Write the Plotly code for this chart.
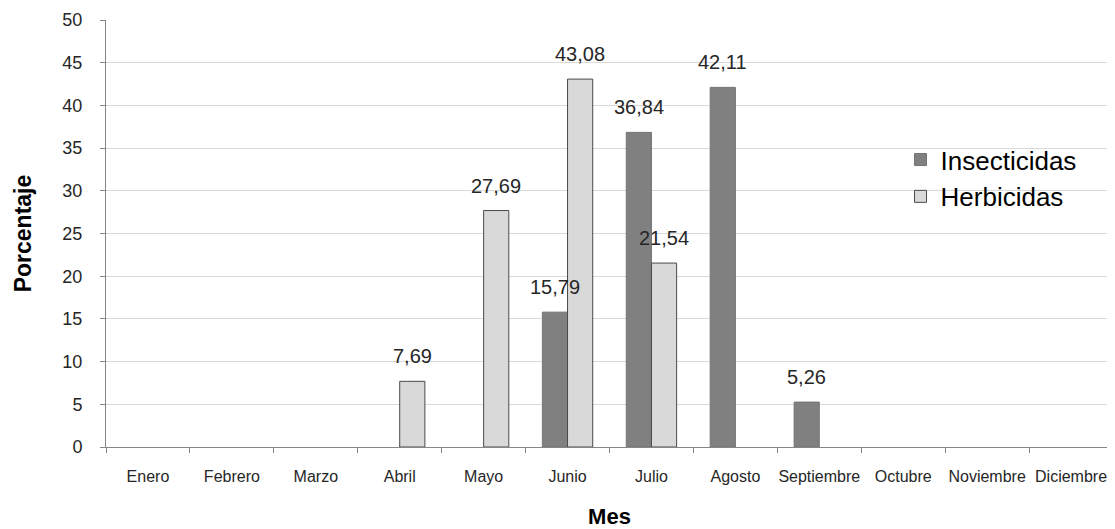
import plotly.graph_objects as go

meses = ["Enero", "Febrero", "Marzo", "Abril", "Mayo", "Junio", "Julio",
         "Agosto", "Septiembre", "Octubre", "Noviembre", "Diciembre"]
insecticidas = [None, None, None, None, None, 15.79, 36.84, 42.11, 5.26, None, None, None]
herbicidas = [None, None, None, 7.69, 27.69, 43.08, 21.54, None, None, None, None, None]
y_ticks = [0, 5, 10, 15, 20, 25, 30, 35, 40, 45, 50]

FONT = "Liberation Sans, Arial, sans-serif"

def fmt(v):
    return f"{v:.2f}".replace(".", ",")

fig = go.Figure()
fig.add_trace(go.Bar(
    name="Insecticidas", x=meses, y=insecticidas,
    marker=dict(color="#808080", line=dict(color="#747474", width=1)),
    legendgroup="a",
))
fig.add_trace(go.Bar(
    name="Herbicidas", x=meses, y=herbicidas,
    marker=dict(color="#d9d9d9", line=dict(color="#4a4a4a", width=1)),
    legendgroup="b",
))

annotations = []
for series, shift in ((insecticidas, -12.5), (herbicidas, 12.5)):
    for m, v in zip(meses, series):
        if v is None:
            continue
        annotations.append(dict(
            x=m, y=v, xref="x", yref="y", text=fmt(v), showarrow=False,
            xanchor="center", yanchor="bottom", xshift=shift, yshift=12,
            font=dict(family=FONT, size=20, color="#262626"),
        ))

# the page body adds an 8px offset; the figure is sized to fit the window
fig.update_layout(
    width=1107, height=521,
    margin=dict(l=98, r=2, t=12, b=82),
    paper_bgcolor="white", plot_bgcolor="white",
    barmode="group", bargap=0.40, bargroupgap=0,
    font=dict(family=FONT, color="#262626"),
    showlegend=True,
    legend=dict(
        x=0.789, y=0.728, xanchor="left", yanchor="top",
        font=dict(family=FONT, size=26, color="#000000"),
        bgcolor="rgba(0,0,0,0)", tracegroupgap=10, traceorder="normal",
    ),
    annotations=annotations,
)
fig.update_xaxes(
    type="category", tickangle=0, automargin=False,
    showline=True, linecolor="#868686", linewidth=1,
    ticks="outside", tickson="boundaries", ticklen=5, tickcolor="#868686",
    tickfont=dict(family=FONT, size=16, color="#262626"),
    ticklabelstandoff=15,
    showgrid=False,
    title=dict(text="<b>Mes</b>", font=dict(family=FONT, size=22, color="#000000"), standoff=26),
)
fig.update_yaxes(
    range=[0, 50], tickvals=y_ticks, automargin=False,
    showline=True, linecolor="#868686", linewidth=1,
    ticks="outside", ticklen=5, tickcolor="#868686",
    tickfont=dict(family=FONT, size=18, color="#262626"),
    ticklabelstandoff=14,
    showgrid=True, gridcolor="#d9d9d9", gridwidth=1,
    zeroline=False,
    title=dict(text="<b>Porcentaje</b>", font=dict(family=FONT, size=23, color="#000000"), standoff=24),
)

fig.write_html("out.html")
